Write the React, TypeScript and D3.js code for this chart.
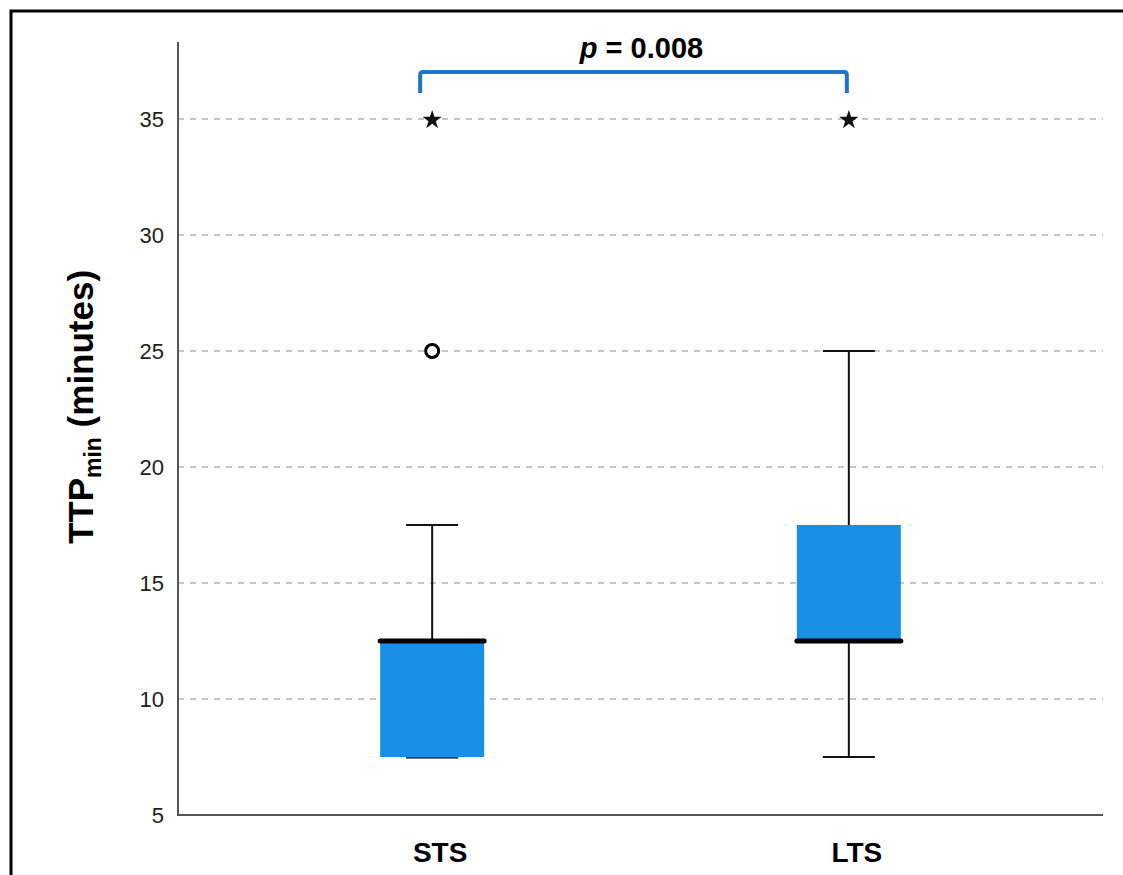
import React, { useEffect, useRef } from "react";
import * as d3 from "d3";

// boxplot stats per group
const groups = ["STS", "LTS"];
const lowerWhisker = [7.5, 7.5];
const q1 = [7.5, 12.5];
const median = [12.5, 12.5];
const q3 = [12.5, 17.5];
const upperWhisker = [17.5, 25];
const outliers = [[25], []]; // circles
const extremes = [[35], [35]]; // stars

const yTicks = [5, 10, 15, 20, 25, 30, 35];
const pLabel = "0.008";

export default function App() {
  const ref = useRef<SVGSVGElement>(null);

  useEffect(() => {
    const width = 1123;
    const height = 875;
    const left = 178;
    const right = 1103;
    const bottom = 815;
    const axisTop = 42;

    const svg = d3.select(ref.current);
    svg.selectAll("*").remove();
    svg.attr("width", width).attr("height", height);

    svg.append("rect")
      .attr("width", width).attr("height", height).attr("fill", "#fff");

    // frame (clipped at right/bottom like the source)
    svg.append("rect")
      .attr("x", 11).attr("y", 11)
      .attr("width", width + 20).attr("height", height + 20)
      .attr("fill", "none").attr("stroke", "#000").attr("stroke-width", 3);

    const y = d3.scaleLinear().domain([5, 35]).range([bottom, 119]);
    const x = d3.scalePoint<string>().domain(groups).range([left, right]).padding(0.61);

    // grid lines
    svg.append("g")
      .selectAll("line")
      .data(yTicks.filter(t => t > 5))
      .enter().append("line")
      .attr("x1", left).attr("x2", right)
      .attr("y1", d => y(d)).attr("y2", d => y(d))
      .attr("stroke", "#b4b4b4").attr("stroke-width", 1.5)
      .attr("stroke-dasharray", "6,6");

    // y axis
    const yAxis = svg.append("g")
      .attr("transform", `translate(${left},0)`)
      .call(d3.axisLeft(y).tickValues(yTicks).tickSize(0).tickPadding(14));
    yAxis.select(".domain").remove();
    yAxis.selectAll("text")
      .attr("font-family", "Liberation Sans, Arial, sans-serif")
      .attr("font-size", 22).attr("fill", "#222");

    svg.append("path")
      .attr("d", `M${left},${axisTop}V${bottom}H${right}`)
      .attr("fill", "none").attr("stroke", "#555").attr("stroke-width", 2);

    // x labels
    svg.append("g")
      .selectAll("text")
      .data(groups)
      .enter().append("text")
      .attr("x", d => (x(d) as number) + 8)
      .attr("y", 862)
      .attr("text-anchor", "middle")
      .attr("font-family", "Liberation Sans, Arial, sans-serif")
      .attr("font-weight", "bold").attr("font-size", 28)
      .text(d => d);

    // y label
    const yl = svg.append("text")
      .attr("transform", "translate(93,407) rotate(-90)")
      .attr("text-anchor", "middle")
      .attr("font-family", "Liberation Sans, Arial, sans-serif")
      .attr("font-weight", "bold").attr("font-size", 35);
    yl.append("tspan").text("TTP");
    yl.append("tspan").attr("font-size", 23).attr("dy", 8).text("min");
    yl.append("tspan").attr("dy", -8).text(" (minutes)");

    const boxW = 104;
    const capW = 52;

    groups.forEach((g, i) => {
      const cx = x(g) as number;
      const gg = svg.append("g");

      // whiskers
      gg.append("line")
        .attr("x1", cx).attr("x2", cx)
        .attr("y1", y(upperWhisker[i])).attr("y2", y(lowerWhisker[i]))
        .attr("stroke", "#111").attr("stroke-width", 2);
      [lowerWhisker[i], upperWhisker[i]].forEach(v => {
        gg.append("line")
          .attr("x1", cx - capW / 2).attr("x2", cx + capW / 2)
          .attr("y1", y(v)).attr("y2", y(v))
          .attr("stroke", "#111").attr("stroke-width", 2);
      });

      // box
      gg.append("rect")
        .attr("x", cx - boxW / 2).attr("width", boxW)
        .attr("y", y(q3[i])).attr("height", y(q1[i]) - y(q3[i]))
        .attr("fill", "#1a8fe6");

      // lower whisker cap visible under box when it meets q1
      if (lowerWhisker[i] === q1[i]) {
        gg.append("line")
          .attr("x1", cx - capW / 2).attr("x2", cx + capW / 2)
          .attr("y1", y(q1[i]) + 1).attr("y2", y(q1[i]) + 1)
          .attr("stroke", "#444").attr("stroke-width", 1.5);
      }

      // median
      gg.append("line")
        .attr("x1", cx - boxW / 2).attr("x2", cx + boxW / 2)
        .attr("y1", y(median[i])).attr("y2", y(median[i]))
        .attr("stroke", "#000").attr("stroke-width", 5)
        .attr("stroke-linecap", "round");

      // circle outliers
      gg.selectAll("circle")
        .data(outliers[i])
        .enter().append("circle")
        .attr("cx", cx).attr("cy", d => y(d)).attr("r", 6.5)
        .attr("fill", "#fff").attr("stroke", "#000").attr("stroke-width", 3);

      // star extremes
      gg.selectAll("path.star")
        .data(extremes[i])
        .enter().append("path")
        .attr("class", "star")
        .attr("d", d3.symbol().type(d3.symbolStar).size(115)() as string)
        .attr("transform", d => `translate(${cx},${y(d) + 1})`)
        .attr("fill", "#111");
    });

    // significance bracket
    const bx1 = x(groups[0]) as number - 12;
    const bx2 = x(groups[1]) as number - 2;
    const by = 72;
    svg.append("path")
      .attr("d", `M${bx1},93V${by + 3}Q${bx1},${by} ${bx1 + 3},${by}H${bx2 - 3}Q${bx2},${by} ${bx2},${by + 3}V93`)
      .attr("fill", "none").attr("stroke", "#1f74c9").attr("stroke-width", 4);

    const pt = svg.append("text")
      .attr("x", (bx1 + bx2) / 2 + 8).attr("y", 58)
      .attr("text-anchor", "middle")
      .attr("font-family", "Liberation Sans, Arial, sans-serif")
      .attr("font-weight", "bold").attr("font-size", 29);
    pt.append("tspan").attr("font-style", "italic").text("p");
    pt.append("tspan").text(` = ${pLabel}`);
  }, []);

  return (
    <svg ref={ref} style={{ position: "absolute", left: 0, top: 0, display: "block" }} />
  );
}
